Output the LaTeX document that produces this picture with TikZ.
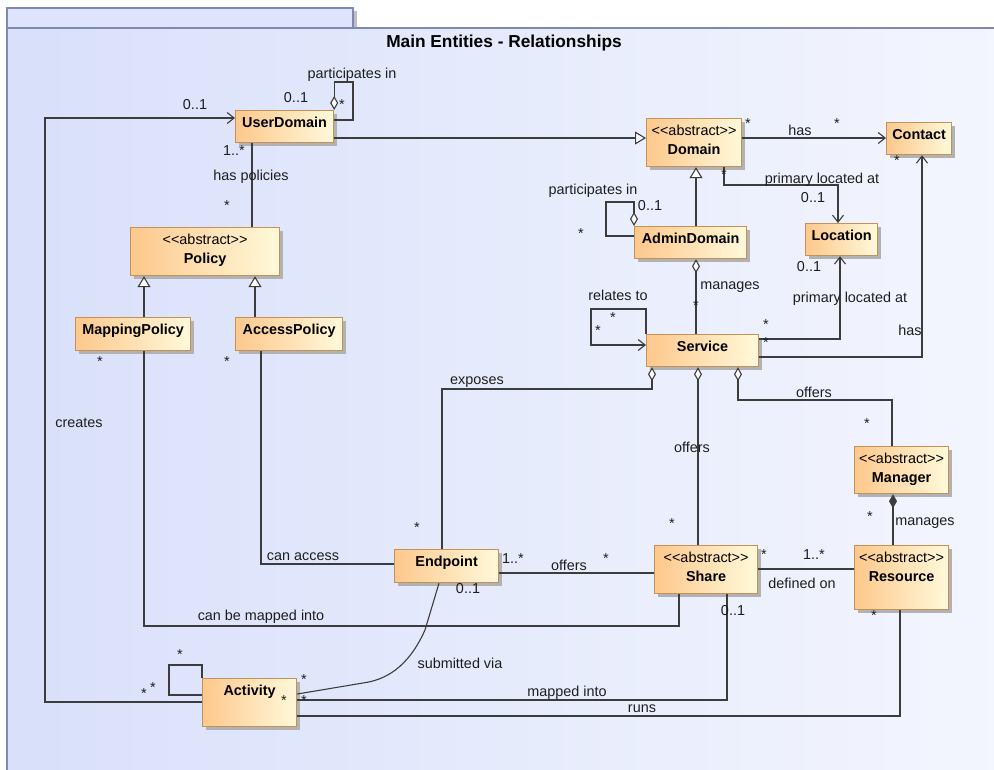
\documentclass[tikz,border=0pt]{standalone}
\usepackage{fontspec}
\setmainfont{Liberation Sans}
\usetikzlibrary{arrows.meta,shadows}
\definecolor{lineC}{RGB}{60,60,60}
\definecolor{boxL}{RGB}{253,200,140}
\definecolor{boxR}{RGB}{255,249,218}
\definecolor{boxB}{RGB}{196,146,88}
\definecolor{bgL}{RGB}{216,224,250}
\definecolor{bgR}{RGB}{244,246,254}
\definecolor{frameC}{RGB}{128,136,180}
\definecolor{tabC}{RGB}{222,228,251}
\definecolor{txtC}{RGB}{30,30,30}
\newcommand\stAbs{<\kern0pt<abstract>\kern0pt>}
\tikzset{
  cls/.style={rectangle, draw=boxB, line width=1.2pt, left color=boxL, right color=boxR,
    anchor=north west, inner sep=0pt,
    drop shadow={shadow xshift=3.5pt, shadow yshift=-3.5pt, fill=black!30, opacity=1}},
  ttl/.style={anchor=north, inner sep=7pt, align=center, text=black, font=\fontsize{14.4}{19}\selectfont},
  lab/.style={inner sep=0pt, text=txtC, font=\fontsize{14.4}{17}\selectfont},
  mul/.style={lab, yshift=-3pt},
  conn/.style={draw=lineC, line width=1.1pt},
  nav/.style={conn, -{Straight Barb[length=7pt,width=11pt]}},
  gen/.style={conn, -{Triangle[length=11pt,width=13pt,fill=white]}},
  agg/.style={conn, {Diamond[length=14pt,width=8pt,fill=white]}-},
  comp/.style={conn, {Diamond[length=14pt,width=8pt]}-}
}
\begin{document}
\begin{tikzpicture}[x=1pt,y=-1pt]
\useasboundingbox (0,0) rectangle (994,769);
\clip (0,0) rectangle (994,769);
\fill[white] (0,0) rectangle (994,769);
% frame
\fill[black!25] (353,11) rectangle (356.5,28);
\draw[frameC, line width=1.5pt, fill=tabC] (7,8) rectangle (353,28);
\draw[frameC, line width=1.5pt, left color=bgL, right color=bgR] (7,28) rectangle (1010,790);
\node[font=\bfseries\fontsize{17.3}{20}\selectfont, inner sep=0pt] (title) at (504,43) {Main Entities - Relationships};

% classes
\node[cls, minimum width=98pt, minimum height=32pt, label={[ttl]north:\textbf{UserDomain}}] (ud) at (235,110) {};
\node[cls, minimum width=95pt, minimum height=48pt, label={[ttl]north:{\stAbs\\\textbf{Domain}}}] (dom) at (646,118) {};
\node[cls, minimum width=65pt, minimum height=32pt, label={[ttl]north:\textbf{Contact}}] (con) at (886,122) {};
\node[cls, minimum width=72pt, minimum height=32pt, label={[ttl]north:\textbf{Location}}] (loc) at (805,223) {};
\node[cls, minimum width=112pt, minimum height=32pt, label={[ttl]north:\textbf{AdminDomain}}] (adm) at (634,226) {};
\node[cls, minimum width=149pt, minimum height=48pt, label={[ttl]north:{\stAbs\\\textbf{Policy}}}] (pol) at (130,227) {};
\node[cls, minimum width=115pt, minimum height=33pt, label={[ttl]north:\textbf{MappingPolicy}}] (mp) at (75,317) {};
\node[cls, minimum width=107pt, minimum height=33pt, label={[ttl]north:\textbf{AccessPolicy}}] (ap) at (235,317) {};
\node[cls, minimum width=112pt, minimum height=32pt, label={[ttl]north:\textbf{Service}}] (svc) at (646,334) {};
\node[cls, minimum width=94pt, minimum height=47pt, label={[ttl]north:{\stAbs\\\textbf{Manager}}}] (mgr) at (854,446) {};
\node[cls, minimum width=94pt, minimum height=64pt, label={[ttl]north:{\stAbs\\\textbf{Resource}}}] (res) at (854,545) {};
\node[cls, minimum width=104pt, minimum height=33pt, label={[ttl]north:\textbf{Endpoint}}] (ep) at (394,549) {};
\node[cls, minimum width=103pt, minimum height=48pt, label={[ttl]north:{\stAbs\\\textbf{Share}}}] (sh) at (654,545) {};
\node[cls, minimum width=94pt, minimum height=48pt, label={[ttl]north:\textbf{Activity}}] (act) at (202,678) {};

% connectors
\draw[gen] (ud.east |- 0,138) -- (dom.west |- 0,138);
\draw[agg] (ud.north east) |- (353,82) |- (ud.east |- 0,120);
\draw[nav] (act.west |- 0,702) -| (45,118) -- (ud.west |- 0,118);
\draw[conn] (act.north west) |- (169,665) |- (act.west |- 0,695);
\draw[conn] (ud.south -| 252,0) -- (pol.north -| 252,0);
\draw[gen] (mp.north -| 144,0) -- (pol.south -| 144,0);
\draw[gen] (ap.north -| 255,0) -- (pol.south -| 255,0);
\draw[conn] (mp.south -| 144,0) |- (679,626) -- (sh.south -| 679,0);
\draw[conn] (ap.south -| 261,0) |- (ep.west |- 0,564);
\draw[nav] (dom.east |- 0,138) -- (con.west |- 0,138);
\draw[nav] (dom.south -| 724,0) |- (838,185) -- (loc.north -| 838,0);
\draw[gen] (adm.north -| 696,0) -- (dom.south -| 696,0);
\draw[agg] (adm.north west) |- (606,202) |- (adm.west |- 0,236);
\draw[agg] (adm.south -| 696,0) -- (svc.north -| 696,0);
\draw[nav] (svc.north west) |- (591,309) |- (svc.west |- 0,345);
\draw[nav] (svc.east |- 0,339) -| (loc.south -| 840,0);
\draw[nav] (svc.east |- 0,357) -| (con.south -| 922,0);
\draw[agg] (svc.south -| 652,0) |- (442,389) -- (ep.north -| 442,0);
\draw[agg] (svc.south -| 698,0) -- (sh.north -| 698,0);
\draw[agg] (svc.south -| 738,0) |- (892,400) -- (mgr.north -| 892,0);
\draw[comp] (mgr.south -| 893,0) -- (res.north -| 893,0);
\draw[conn] (sh.east |- 0,569) -- (res.west |- 0,569);
\draw[conn] (ep.east |- 0,573) -- (sh.west |- 0,573);
\draw[conn] (ep.south -| 439,0) -- (425,630) .. controls (408,668) and (385,680) .. (363,683) -- (act.east |- 0,694);
\draw[conn] (sh.south -| 727,0) |- (act.east |- 0,700);
\draw[conn] (res.south -| 900,0) |- (act.east |- 0,716);

% role / association labels
\node[lab] (t1) at (352,75) {participates in};
\node[lab] (t2) at (296,98) {0..1};
\node[lab] (t3) at (195,105) {0..1};
\node[lab] (t4) at (234,151) {1..*};
\node[lab] (t5) at (251,177) {has policies};
\node[lab] (t6) at (79,423) {creates};
\node[lab] (t7) at (303,557) {can access};
\node[lab] (t8) at (261,617) {can be mapped into};
\node[lab] (t9) at (468,589) {0..1};
\node[lab] (t10) at (460,663) {submitted via};
\node[lab] (t11) at (513,559) {1..*};
\node[lab] (t12) at (569,565) {offers};
\node[lab] (t13) at (814,555) {1..*};
\node[lab] (t14) at (802,583) {defined on};
\node[lab] (t15) at (733,611) {0..1};
\node[lab] (t16) at (567,693) {mapped into};
\node[lab] (t17) at (642,709) {runs};
\node[lab] (t18) at (925,523) {manages};
\node[lab] (t19) at (814,392) {offers};
\node[lab] (t20) at (692,447) {offers};
\node[lab] (t21) at (477,382) {exposes};
\node[lab] (t22) at (730,287) {manages};
\node[lab] (t23) at (618,295) {relates to};
\node[lab] (t24) at (809,267) {0..1};
\node[lab] (t25) at (850,299) {primary located at};
\node[lab] (t26) at (910,330) {has};
\node[lab] (t27) at (822,180) {primary located at};
\node[lab] (t28) at (813,198) {0..1};
\node[lab] (t29) at (800,130) {has};
\node[lab] (t30) at (593,191) {participates in};
\node[lab] (t31) at (650,206) {0..1};

% multiplicity stars
\node[mul] (s1) at (342,102) {*};
\node[mul] (s2) at (227,203) {*};
\node[mul] (s3) at (100,359) {*};
\node[mul] (s4) at (227,359) {*};
\node[mul] (s5) at (144,691) {*};
\node[mul] (s6) at (153,685) {*};
\node[mul] (s7) at (180,652) {*};
\node[mul] (s8) at (304,677) {*};
\node[mul] (s9) at (284,698) {*};
\node[mul] (s10) at (304,698) {*};
\node[mul] (s11) at (417,525) {*};
\node[mul] (s12) at (606,556) {*};
\node[mul] (s13) at (672,521) {*};
\node[mul] (s14) at (764,552) {*};
\node[mul] (s15) at (874,613) {*};
\node[mul] (s16) at (870,514) {*};
\node[mul] (s17) at (867,421) {*};
\node[mul] (s18) at (696,303) {*};
\node[mul] (s19) at (613,315) {*};
\node[mul] (s20) at (598,328) {*};
\node[mul] (s21) at (766,322) {*};
\node[mul] (s22) at (766,340) {*};
\node[mul] (s23) at (724,172) {*};
\node[mul] (s24) at (748,121) {*};
\node[mul] (s25) at (837,121) {*};
\node[mul] (s26) at (897,158) {*};
\node[mul] (s27) at (581,231) {*};
\end{tikzpicture}
\end{document}
